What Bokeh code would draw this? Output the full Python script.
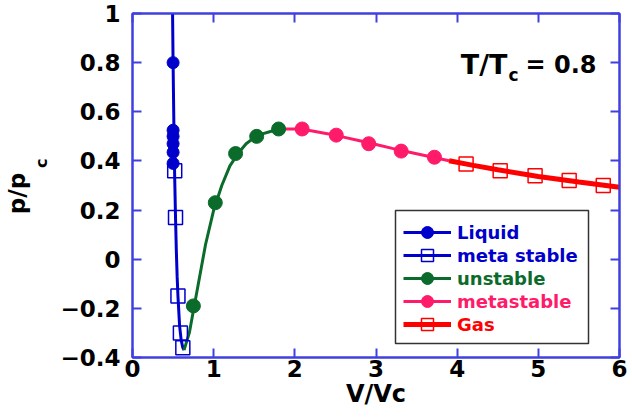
from bokeh.plotting import figure
from bokeh.models import (Range1d, FixedTicker, LinearAxis, Legend, LegendItem, Label,
                          BoxAnnotation, CustomJSTickFormatter)
from bokeh.embed import file_html
from bokeh.resources import INLINE

# ---- data ----
liquid_v = [0.50, 0.50, 0.50, 0.50, 0.50, 0.50]
liquid_p = [0.80, 0.525, 0.50, 0.47, 0.435, 0.39]

meta_liq_v = [0.52, 0.53, 0.56, 0.59, 0.62]
meta_liq_p = [0.36, 0.17, -0.15, -0.30, -0.36]

unstable_v = [0.75, 1.02, 1.27, 1.53, 1.80]
unstable_p = [-0.19, 0.23, 0.43, 0.50, 0.53]

metastable_v = [2.09, 2.51, 2.91, 3.31, 3.72]
metastable_p = [0.53, 0.505, 0.47, 0.44, 0.415]

gas_v = [4.11, 4.53, 4.96, 5.38, 5.80]
gas_p = [0.387, 0.36, 0.34, 0.32, 0.30]

# isotherm curve pieces
curve_liq_v = [0.48, 0.485, 0.49, 0.50, 0.51, 0.52, 0.53, 0.54, 0.55, 0.56, 0.58, 0.60, 0.62, 0.635]
curve_liq_p = [1.52, 1.31, 1.12, 0.80, 0.54, 0.33, 0.17, 0.035, -0.07, -0.15, -0.27, -0.33, -0.36, -0.37]

curve_uns_v = [0.635, 0.70, 0.75, 0.80, 0.90, 1.00, 1.10, 1.20, 1.30, 1.40, 1.50, 1.60, 1.70, 1.80, 1.85]
curve_uns_p = [-0.37, -0.30, -0.21, -0.12, 0.06, 0.20, 0.30, 0.38, 0.43, 0.47, 0.495, 0.51, 0.52, 0.529, 0.53]

curve_meta_v = [1.85, 2.0, 2.2, 2.4, 2.6, 2.8, 3.0, 3.2, 3.4, 3.6, 3.9]
curve_meta_p = [0.53, 0.53, 0.523, 0.511, 0.497, 0.482, 0.467, 0.451, 0.436, 0.422, 0.401]

curve_gas_v = [3.9, 4.2, 4.5, 5.0, 5.5, 6.0]
curve_gas_p = [0.401, 0.382, 0.364, 0.337, 0.314, 0.293]

x_ticks = [0, 1, 2, 3, 4, 5, 6]
x_tick_labels = ["0", "1", "2", "3", "4", "5", "6"]
y_ticks = [-0.4, -0.2, 0, 0.2, 0.4, 0.6, 0.8, 1]
y_tick_labels = ["\u22120.4", "\u22120.2", "0", "0.2", "0.4", "0.6", "0.8", "1"]

series_labels = ["Liquid", "meta stable", "unstable", "metastable", "Gas"]

BLUE = "#0000cc"
GREEN = "#0b6b2a"
PINK = "#ff1a6a"
RED = "#ff0000"
AXIS = "#4040e0"
FONT = "DejaVu Sans"
NB = "\u00a0"

p = figure(width=632, height=420, x_range=Range1d(0, 6), y_range=Range1d(-0.4, 1),
           output_backend="svg", toolbar_location=None,
           min_border_left=132, min_border_right=13, min_border_top=13, min_border_bottom=63)
p.grid.visible = False
p.outline_line_color = AXIS
p.outline_line_width = 2

bottom_ax = p.below[0]
left_ax = p.left[0]

def style_axis(ax, ticks, labels, show_labels, standoff):
    ax.ticker = FixedTicker(ticks=ticks)
    ax.axis_line_color = AXIS
    ax.axis_line_width = 2
    ax.major_tick_line_color = AXIS
    ax.major_tick_line_width = 2
    ax.major_tick_in = 9
    ax.major_tick_out = 0
    ax.minor_tick_line_color = None
    ax.major_label_text_font = FONT
    ax.major_label_text_font_style = "bold"
    ax.major_label_text_color = "black"
    ax.major_label_text_font_size = "23px"
    ax.major_label_standoff = standoff
    if show_labels:
        ax.major_label_overrides = {t: l for t, l in zip(ticks, labels)}
    else:
        ax.formatter = CustomJSTickFormatter(code="return ''")

style_axis(bottom_ax, x_ticks, x_tick_labels, True, 2)
style_axis(left_ax, y_ticks, y_tick_labels, True, 12)
top_ax = LinearAxis()
right_ax = LinearAxis()
style_axis(top_ax, x_ticks, x_tick_labels, False, 0)
style_axis(right_ax, y_ticks, y_tick_labels, False, 0)
p.add_layout(top_ax, "above")
p.add_layout(right_ax, "right")

# axis titles: "V/Vc" below; "p/p" + subscript "c" on the left
bottom_ax.axis_label = "V/Vc"
bottom_ax.axis_label_text_font_size = "24px"
bottom_ax.axis_label_standoff = 0
left_ax.axis_label = NB * 8 + "c"
left_ax.axis_label_text_font_size = "16px"
left_ax.axis_label_standoff = 6

title_ax = LinearAxis(ticker=FixedTicker(ticks=[]), axis_line_color=None,
                      major_tick_line_color=None, minor_tick_line_color=None,
                      major_tick_in=0, major_tick_out=0, minor_tick_in=0, minor_tick_out=0,
                      major_label_standoff=0,
                      formatter=CustomJSTickFormatter(code="return ''"))
title_ax.axis_label = "p/p" + NB * 2
title_ax.axis_label_text_font_size = "23px"
title_ax.axis_label_standoff = 0
p.add_layout(title_ax, "left")

for ax in (bottom_ax, left_ax, title_ax):
    ax.axis_label_text_font = FONT
    ax.axis_label_text_font_style = "bold"
    ax.axis_label_text_color = "black"

# curves
l_liq = p.line(curve_liq_v, curve_liq_p, line_color=BLUE, line_width=3)
l_uns = p.line(curve_uns_v, curve_uns_p, line_color=GREEN, line_width=3)
l_meta = p.line(curve_meta_v, curve_meta_p, line_color=PINK, line_width=3)
l_gas = p.line(curve_gas_v, curve_gas_p, line_color=RED, line_width=5)

# markers
s_meta_liq = p.scatter(meta_liq_v, meta_liq_p, marker="square", size=14, fill_color=None,
                       line_color=BLUE, line_width=1.5)
s_liq = p.scatter(liquid_v, liquid_p, marker="circle", size=12, fill_color=BLUE, line_color=BLUE)
s_uns = p.scatter(unstable_v, unstable_p, marker="circle", size=14, fill_color=GREEN, line_color=GREEN)
s_meta = p.scatter(metastable_v, metastable_p, marker="circle", size=14, fill_color=PINK, line_color=PINK)
s_gas = p.scatter(gas_v, gas_p, marker="square", size=14, fill_color=None, line_color=RED, line_width=1.5)

# legend frame
p.add_layout(BoxAnnotation(left=395 - 132, right=588 - 132, bottom=357 - 343, top=357 - 210,
                           left_units="screen", right_units="screen",
                           bottom_units="screen", top_units="screen",
                           fill_color="white", fill_alpha=1,
                           line_color="#333333", line_width=1.5, line_alpha=1))

legend_renderers = [[l_liq, s_liq], [l_liq, s_meta_liq], [l_uns, s_uns], [l_meta, s_meta], [l_gas, s_gas]]
legend_colors = [BLUE, BLUE, GREEN, PINK, RED]
row_centers = [232, 255, 278, 301, 324]
for lab, rends, col, yc in zip(series_labels, legend_renderers, legend_colors, row_centers):
    lg = Legend(items=[LegendItem(label=lab, renderers=rends)], location=(403 - 132, 357 - yc - 15))
    lg.padding = 0
    lg.margin = 0
    lg.glyph_height = 30
    lg.label_height = 30
    lg.glyph_width = 48
    lg.label_standoff = 6
    lg.label_text_font = FONT
    lg.label_text_font_style = "bold"
    lg.label_text_font_size = "18px"
    lg.label_text_color = col
    lg.border_line_color = None
    lg.background_fill_alpha = 0
    p.add_layout(lg)

# T/Tc annotation
p.add_layout(Label(x=507 - 132, y=357 - 64, x_units="screen", y_units="screen", text="T/T",
                   text_font=FONT, text_font_style="bold", text_font_size="27px",
                   text_align="right", text_baseline="alphabetic", text_color="black"))
p.add_layout(Label(x=508 - 132, y=357 - 74, x_units="screen", y_units="screen", text="c",
                   text_font=FONT, text_font_style="bold", text_font_size="17px",
                   text_align="left", text_baseline="alphabetic", text_color="black"))
p.add_layout(Label(x=525 - 132, y=357 - 64, x_units="screen", y_units="screen", text="= 0.8",
                   text_font=FONT, text_font_style="bold", text_font_size="24px",
                   text_align="left", text_baseline="alphabetic", text_color="black"))

open("out.html", "w").write(file_html(p, INLINE))
